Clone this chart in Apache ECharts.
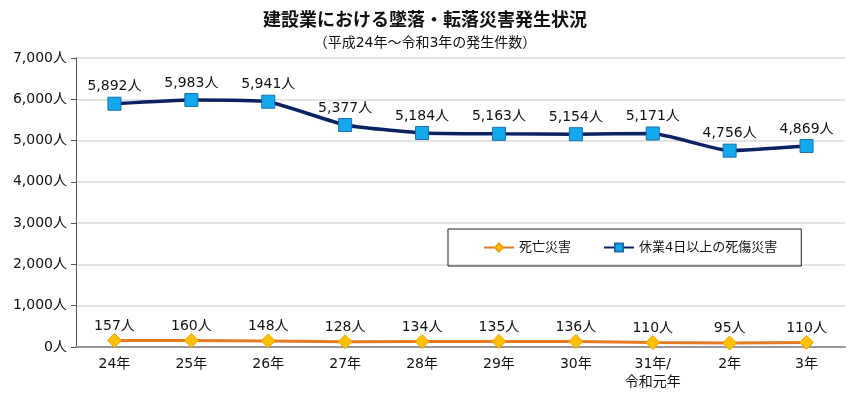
<!DOCTYPE html>
<html>
<head>
<meta charset="utf-8">
<script src="https://cdn.jsdelivr.net/npm/echarts@6/dist/echarts.min.js"></script>
<style>
  html, body { margin: 0; padding: 0; background: #fff; }
  #main { width: 850px; height: 394px; }
</style>
</head>
<body>
<div id="main"></div>
<script>
// 年度
var categories = ['24年', '25年', '26年', '27年', '28年', '29年', '30年', '31年/\n令和元年', '2年', '3年']
// 休業4日以上の死傷災害
var injuryCounts = [5892, 5983, 5941, 5377, 5184, 5163, 5154, 5171, 4756, 4869]
// 死亡災害
var deathCounts = [157, 160, 148, 128, 134, 135, 136, 110, 95, 110]

var font = '"DejaVu Sans", "Noto Sans CJK JP", sans-serif'
var cjkFont = '"Noto Sans CJK JP", sans-serif'

function fmt(v) {
  return v.toLocaleString('en-US') + '人'
}

var chart = echarts.init(document.getElementById('main'))

var option = {
  animation: false,
  textStyle: { fontFamily: font },
  title: [
    {
      text: '建設業における墜落・転落災害発生状況',
      left: 'center',
      top: 5,
      textStyle: { fontSize: 18, fontWeight: 'bold', color: '#111', fontFamily: cjkFont }
    },
    {
      text: '（平成24年～令和3年の発生件数）',
      left: 'center',
      top: 31,
      textStyle: { fontSize: 14, fontWeight: 'normal', color: '#111', fontFamily: font }
    }
  ],
  legend: {
    data: ['死亡災害', '休業4日以上の死傷災害'],
    left: 448,
    top: 229,
    padding: [12, 24, 12, 35],
    itemGap: 32,
    itemWidth: 30,
    itemHeight: 10,
    borderColor: '#222',
    borderWidth: 1,
    textStyle: { fontSize: 13, color: '#111', fontFamily: font }
  },
  grid: {
    left: 76,
    right: 5,
    top: 58,
    bottom: 47,
    containLabel: false
  },
  xAxis: {
    type: 'category',
    data: categories,
    axisTick: { show: false },
    axisLine: { lineStyle: { color: '#999', width: 2 } },
    axisLabel: {
      color: '#111',
      fontSize: 14,
      margin: 8,
      lineHeight: 18,
      fontFamily: font
    }
  },
  yAxis: {
    type: 'value',
    min: 0,
    max: 7000,
    interval: 1000,
    axisLine: { show: true, lineStyle: { color: '#555', width: 1 } },
    axisTick: { show: true, length: 5, lineStyle: { color: '#555' } },
    axisLabel: {
      color: '#111',
      fontSize: 14,
      margin: 9,
      fontFamily: font,
      formatter: function (v) { return fmt(v) }
    },
    splitLine: { lineStyle: { color: '#e3e3e3', width: 2 } }
  },
  series: [
    {
      name: '死亡災害',
      type: 'line',
      data: deathCounts,
      symbol: 'diamond',
      symbolSize: 14,
      lineStyle: { color: '#e47b25', width: 3 },
      itemStyle: { color: '#ffc000', borderColor: '#f0a000', borderWidth: 1 },
      label: {
        show: true,
        position: 'top',
        distance: 0,
        color: '#111',
        fontSize: 14,
        fontFamily: font,
        formatter: function (p) { return fmt(p.value) }
      }
    },
    {
      name: '休業4日以上の死傷災害',
      type: 'line',
      data: injuryCounts,
      smooth: 0.15,
      symbol: 'rect',
      symbolSize: 13,
      lineStyle: { color: '#0b2363', width: 3.5 },
      itemStyle: { color: '#14a9ec', borderColor: '#1a6fae', borderWidth: 1 },
      label: {
        show: true,
        position: 'top',
        distance: 3,
        color: '#111',
        fontSize: 14,
        fontFamily: font,
        formatter: function (p) { return fmt(p.value) }
      }
    }
  ]
}

chart.setOption(option, true)
</script>
</body>
</html>
